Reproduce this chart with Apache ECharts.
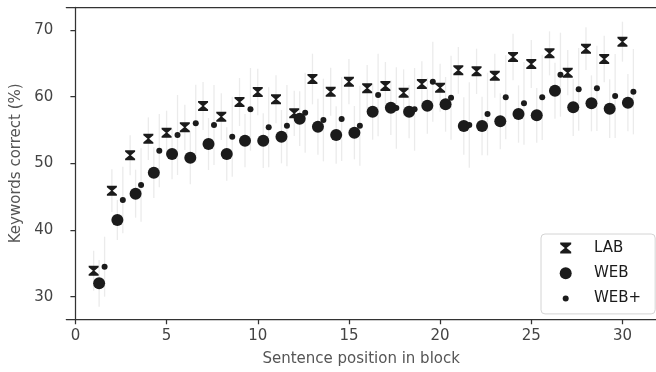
<!DOCTYPE html>
<html>
<head>
<meta charset="utf-8">
<script src="https://cdn.jsdelivr.net/npm/echarts@6/dist/echarts.min.js"></script>
<style>
  html, body { margin: 0; padding: 0; background: #fff; }
  #chart { width: 656px; height: 372px; }
</style>
</head>
<body>
<div id="chart"></div>
<script>
// Sentence position within a block (1..30)
const positions = [1, 2, 3, 4, 5, 6, 7, 8, 9, 10, 11, 12, 13, 14, 15,
                   16, 17, 18, 19, 20, 21, 22, 23, 24, 25, 26, 27, 28, 29, 30];

// Mean keywords correct (%) per condition
const lab = [33.9, 45.9, 51.2, 53.7, 54.6, 55.4, 58.6, 57.0, 59.2, 60.7,
             59.6, 57.5, 62.65, 60.75, 62.25, 61.25, 61.6, 60.6, 61.9, 61.35,
             63.95, 63.8, 63.15, 65.95, 64.9, 66.5, 63.6, 67.2, 65.65, 68.25];
const web = [32.0, 41.5, 45.45, 48.6, 51.4, 50.85, 52.9, 51.4, 53.4, 53.4,
             54.0, 56.7, 55.5, 54.25, 54.6, 57.75, 58.35, 57.75, 58.65, 58.85,
             55.6, 55.6, 56.3, 57.4, 57.2, 60.9, 58.4, 59.0, 58.2, 59.1];
const webPlus = [34.5, 44.5, 46.75, 51.9, 54.25, 56.0, 55.75, 54.0, 58.1, 55.4,
                 55.65, 57.6, 56.5, 56.65, 55.65, 60.25, 58.3, 58.1, 62.25, 59.85,
                 55.75, 57.4, 59.9, 59.0, 59.9, 63.3, 61.1, 61.25, 60.1, 60.75];

// Half-length of the uncertainty interval drawn around each mean
const labErr = [3.0, 3.2, 3.0, 3.2, 3.3, 3.4, 3.6, 3.5, 3.6, 3.5,
                3.6, 3.4, 3.8, 3.6, 3.4, 3.5, 3.6, 3.5, 3.4, 3.6,
                3.5, 3.4, 3.3, 3.5, 3.6, 3.3, 3.4, 3.2, 3.5, 3.0];
const webErr = [3.5, 3.0, 3.6, 3.8, 3.8, 4.0, 3.9, 4.0, 4.0, 4.1,
                4.0, 4.1, 4.2, 4.3, 4.0, 4.2, 4.1, 4.0, 4.2, 4.1,
                4.3, 4.4, 4.2, 4.3, 4.1, 4.2, 4.3, 4.2, 4.4, 4.3];
const webPlusErr = [4.5, 5.0, 5.5, 5.5, 6.0, 5.8, 6.0, 6.0, 6.2, 6.0,
                    6.1, 6.0, 6.2, 6.3, 6.0, 6.2, 6.1, 6.2, 6.0, 6.3,
                    6.4, 6.2, 6.3, 6.2, 6.4, 6.3, 6.2, 6.4, 6.3, 6.4];

const xTicks = [0, 5, 10, 15, 20, 25, 30];
const yTicks = [30, 40, 50, 60, 70];

// Horizontal dodge of each condition around the integer position
const DODGE = { LAB: 0, WEB: 0.3, 'WEB+': 0.6 };

const FONT = 'DejaVu Sans';
const INK = '#1b1b1b';
const ERR_COLOR = '#ebebeb';

const HOURGLASS = 'path://M0,0 H10 V1.5 L5.8,5 L10,8.5 V10 H0 V8.5 L4.2,5 L0,1.5 Z';
// Legend icons live in a 30x14 box so the label sits clear of the marker
const LEG_HOURGLASS = 'path://M0,0 M30,14 M1.2,1.5 H12.2 V3.2 L7.6,7 L12.2,10.8 V12.5 H1.2 V10.8 L5.8,7 L1.2,3.2 Z';
const LEG_BIG = 'path://M0,0 M30,14 M0.7,7 A6,6 0 1,1 12.7,7 A6,6 0 1,1 0.7,7 Z';
const LEG_SMALL = 'path://M0,0 M30,14 M3.7,7 A3,3 0 1,1 9.7,7 A3,3 0 1,1 3.7,7 Z';

function points(values, name) {
  return positions.map((p, i) => [p + DODGE[name], values[i]]);
}
function intervals(values, errs, name) {
  return positions.map((p, i) => [p + DODGE[name], values[i] - errs[i], values[i] + errs[i]]);
}

function errorSeries(values, errs, name) {
  return {
    type: 'custom',
    name: name + ' interval',
    z: 1,
    silent: true,
    data: intervals(values, errs, name),
    encode: { x: 0, y: [1, 2] },
    renderItem(params, api) {
      const a = api.coord([api.value(0), api.value(1)]);
      const b = api.coord([api.value(0), api.value(2)]);
      return {
        type: 'line',
        shape: { x1: a[0], y1: a[1], x2: b[0], y2: b[1] },
        style: { stroke: ERR_COLOR, lineWidth: 1.3 }
      };
    }
  };
}

const axisText = { fontFamily: FONT, fontSize: 15, color: '#444' };
const spine = { show: true, lineStyle: { color: '#333', width: 1.25 } };

const chart = echarts.init(document.getElementById('chart'), null, { renderer: 'canvas' });
chart.setOption({
  animation: false,
  backgroundColor: '#fff',
  grid: { left: 66.3, right: 0, top: 7.3, bottom: 52.7, containLabel: false, outerBoundsMode: 'none' },
  xAxis: [{
    type: 'value',
    min: -0.5,
    max: 31.84,
    axisLine: spine,
    axisTick: { show: true, length: 5, customValues: xTicks, lineStyle: { color: '#333', width: 1.25 } },
    axisLabel: { customValues: xTicks, margin: 9, ...axisText },
    splitLine: { show: false },
    name: 'Sentence position in block',
    nameLocation: 'middle',
    nameGap: 32,
    nameTextStyle: { fontFamily: FONT, fontSize: 15, color: '#555' }
  }, {
    type: 'value',
    position: 'top',
    min: -0.5,
    max: 31.84,
    axisLine: spine,
    axisTick: { show: false },
    axisLabel: { show: false },
    splitLine: { show: false }
  }],
  yAxis: {
    type: 'value',
    min: 26.61,
    max: 73.41,
    axisLine: spine,
    axisTick: { show: true, length: 5, customValues: yTicks, lineStyle: { color: '#333', width: 1.25 } },
    axisLabel: { customValues: yTicks, margin: 13, ...axisText },
    splitLine: { show: false },
    name: 'Keywords correct (%)',
    nameLocation: 'middle',
    nameGap: 39,
    nameTextStyle: { fontFamily: FONT, fontSize: 15, color: '#555' }
  },
  legend: {
    orient: 'vertical',
    left: 541,
    top: 234,
    padding: [6.5, 14, 8, 18],
    itemGap: 10.2,
    itemWidth: 30,
    itemHeight: 14,
    borderColor: '#d4d4d4',
    borderWidth: 1,
    borderRadius: 4,
    backgroundColor: '#fff',
    selectedMode: false,
    textStyle: { fontFamily: FONT, fontSize: 15, color: INK },
    data: [
      { name: 'LAB', icon: LEG_HOURGLASS },
      { name: 'WEB', icon: LEG_BIG },
      { name: 'WEB+', icon: LEG_SMALL }
    ]
  },
  series: [
    errorSeries(lab, labErr, 'LAB'),
    errorSeries(web, webErr, 'WEB'),
    errorSeries(webPlus, webPlusErr, 'WEB+'),
    {
      type: 'scatter', name: 'LAB', z: 3,
      symbol: HOURGLASS, symbolSize: 10,
      itemStyle: { color: INK, opacity: 1 },
      data: points(lab, 'LAB')
    },
    {
      type: 'scatter', name: 'WEB', z: 3,
      symbol: 'circle', symbolSize: 12,
      itemStyle: { color: INK, opacity: 1 },
      data: points(web, 'WEB')
    },
    {
      type: 'scatter', name: 'WEB+', z: 3,
      symbol: 'circle', symbolSize: 6,
      itemStyle: { color: INK, opacity: 1 },
      data: points(webPlus, 'WEB+')
    }
  ]
});
</script>
</body>
</html>
